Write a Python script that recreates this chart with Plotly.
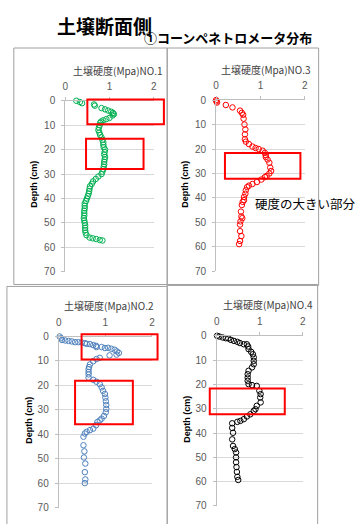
import plotly.graph_objects as go

W, H = 358, 524

# ---------------- data (depth cm, hardness MPa) ----------------
no1_depth = [0, 0.5, 1, 1.5, 2, 3, 3.5, 4, 4.5, 5, 5.5, 6, 7, 7.5, 8, 8.5, 9, 10, 11, 12, 13, 14, 15, 16,
             17, 18, 19, 20, 21, 22, 23, 24, 25, 26, 27, 28, 29, 30, 31, 32, 33, 34, 35, 36, 37, 38, 39,
             40, 41, 42, 43, 44, 45, 46, 47, 48, 49, 50, 51, 52, 53, 54, 55, 56, 56.3, 56.6, 57, 57.2]
no1_mpa = [0.25, 0.33, 0.38, 0.65, 0.67, 0.82, 0.90, 0.97, 1.04, 1.08, 1.10, 1.07, 1.00, 0.93, 0.86, 0.81,
           0.79, 0.78, 0.76, 0.75, 0.77, 0.79, 0.82, 0.84, 0.86, 0.86, 0.87, 0.90, 0.89, 0.88, 0.90, 0.89,
           0.88, 0.88, 0.87, 0.86, 0.84, 0.82, 0.75, 0.69, 0.63, 0.60, 0.56, 0.55, 0.54, 0.53, 0.51, 0.49,
           0.47, 0.44, 0.44, 0.44, 0.43, 0.43, 0.43, 0.42, 0.43, 0.44, 0.45, 0.45, 0.45, 0.46, 0.48, 0.55,
           0.62, 0.70, 0.78, 0.84]

no3_depth = [0, 0.5, 1, 2, 3, 4.3, 5.2, 6, 7.6, 10, 12, 14, 16, 17, 18, 19, 19.6, 20, 20.7, 21.6, 22.5,
             23.3, 24.3, 25.6, 27.6, 29, 30, 31, 31.5, 32.5, 33.5, 34.3, 35, 35.6, 36.9, 38.3, 39.6, 40.9,
             41.6, 42.9, 45.6, 47.6, 48.3, 49.6, 50.9, 53.6, 55.6, 57.6, 58.9]
no3_mpa = [0.00, 0.01, 0.02, 0.22, 0.37, 0.54, 0.58, 0.61, 0.62, 0.64, 0.66, 0.65, 0.65, 0.67, 0.74, 0.82,
           0.89, 0.96, 1.05, 1.10, 1.12, 1.12, 1.16, 1.20, 1.22, 1.24, 1.20, 1.14, 1.10, 1.02, 0.92, 0.82,
           0.74, 0.70, 0.67, 0.66, 0.63, 0.63, 0.60, 0.58, 0.56, 0.57, 0.59, 0.55, 0.54, 0.54, 0.57, 0.54,
           0.52]

no2_depth = [0, 0.7, 1.4, 1.6, 1.8, 2.0, 2.3, 2.3, 2.4, 2.7, 3.0, 3.1, 3.5, 3.8, 4.3, 4.3, 4.7, 4.6, 5.0,
             5.4, 6.1, 6.7, 7.4, 7.7, 8.7, 9.2, 10.1, 11.4, 12.5, 13.4, 14.5, 15.5, 16.8, 17.7, 18.5, 19.5,
             20.8, 22.2, 23.5, 25, 26.5, 28, 29.6, 31, 32.5, 33.6, 34.3, 35, 36.3, 37.7, 38.3, 39, 39.7,
             41, 44.5, 47, 49.5, 52, 55.5, 58.5, 60]
no2_mpa = [0.02, 0.05, 0.07, 0.14, 0.21, 0.28, 0.35, 0.42, 0.49, 0.56, 0.60, 0.67, 0.74, 0.80, 0.81, 0.92,
           0.99, 1.06, 1.13, 1.20, 1.25, 1.29, 1.24, 1.09, 0.88, 0.81, 0.74, 0.67, 0.65, 0.64, 0.64, 0.64,
           0.64, 0.74, 0.81, 0.88, 0.92, 0.95, 0.99, 1.00, 1.01, 1.02, 1.02, 1.01, 0.97, 0.92, 0.88, 0.83,
           0.80, 0.74, 0.67, 0.60, 0.56, 0.53, 0.53, 0.55, 0.54, 0.57, 0.56, 0.57, 0.56]

no4_depth = [0, 0.3, 0.7, 1, 1.1, 1.7, 2.1, 2.5, 3, 3.5, 3.5, 4.4, 5.5, 6.6, 7.6, 8.9, 10.3, 11.7, 13, 14.4,
             15.8, 17.2, 18.5, 19.9, 20.3, 20.6, 22.6, 24, 25.4, 27.4, 28.8, 30.2, 30.9, 32.3, 33.2, 34.3,
             35, 35.4, 36, 37.9, 39.9, 42.6, 45.3, 46.6, 48, 50, 52, 54, 56, 58, 59.3]
no4_mpa = [0.01, 0.06, 0.14, 0.21, 0.27, 0.33, 0.40, 0.48, 0.54, 0.63, 0.70, 0.73, 0.74, 0.80, 0.84, 0.86,
           0.86, 0.86, 0.82, 0.74, 0.72, 0.72, 0.72, 0.74, 0.82, 0.93, 0.99, 1.02, 1.01, 1.02, 0.93, 0.90,
           0.86, 0.78, 0.70, 0.63, 0.55, 0.48, 0.36, 0.36, 0.38, 0.36, 0.38, 0.42, 0.45, 0.45, 0.45, 0.46,
           0.47, 0.48, 0.50]

# highlighted (hard) zones: [x0, x1, depth0, depth1] in data units
no1_boxes = [[0.50, 2.23, -0.5, 9.6], [0.47, 1.77, 15.5, 27.9]]
no3_boxes = [[0.20, 1.90, 21.6, 32.2]]
no2_boxes = [[0.49, 2.12, -0.9, 9.4], [0.35, 1.59, 18.1, 35.9]]
no4_boxes = [[-0.16, 1.58, 21.7, 32.3]]

titles = ["土壌硬度(Mpa)NO.1", "土壌硬度(Mpa)NO.3", "土壌硬度(Mpa)NO.2", "土壌硬度(Mpa)NO.4"]
x_ticks = [0, 1, 2]
y_ticks = [0, 10, 20, 30, 40, 50, 60, 70]
X_RANGE = [0, 2]
Y_RANGE = [70, 0]

def px(p):
    return p / W

def py(p):
    return 1 - p / H

# panel geometry (pixels): plot area x0,x1 (value 0..2), y0,y1 (depth 0..70)
panels = [
    dict(n="", x=(63.3, 153.3), y=(97.0, 272.0), color="#00B050", depth=no1_depth, mpa=no1_mpa,
         boxes=no1_boxes, title=titles[0], tpos=(117, 66), ylab=32),
    dict(n="3", x=(216.7, 307.0), y=(96.3, 271.5), color="#FF0000", depth=no3_depth, mpa=no3_mpa,
         boxes=no3_boxes, title=titles[1], tpos=(267, 65), ylab=185),
    dict(n="2", x=(56.7, 151.5), y=(338.3, 513.3), color="#4F81BD", depth=no2_depth, mpa=no2_mpa,
         boxes=no2_boxes, title=titles[2], tpos=(108, 307), ylab=27),
    dict(n="4", x=(217.3, 305.0), y=(337.5, 511.7), color="#000000", depth=no4_depth, mpa=no4_mpa,
         boxes=no4_boxes, title=titles[3], tpos=(270, 306), ylab=187),
]

fig = go.Figure()
shapes = []
annotations = []

TICKFONT = dict(family="Liberation Sans, Arial", size=10, color="#595959")
AXCOL = "#BFBFBF"

for i, p in enumerate(panels):
    xa = "xaxis" + p["n"]
    ya = "yaxis" + p["n"]
    xr = "x" + p["n"]
    yr = "y" + p["n"]
    fig.add_trace(go.Scatter(
        x=p["mpa"], y=p["depth"], mode="markers", xaxis=xr, yaxis=yr, cliponaxis=False,
        marker=dict(symbol="circle-open", size=5.5, color=p["color"], line=dict(width=1.0, color=p["color"])),
        showlegend=False, hoverinfo="x+y"))
    fig.update_layout(**{
        xa: dict(domain=[px(p["x"][0]), px(p["x"][1])], anchor=yr, side="top", range=X_RANGE,
                 tickvals=x_ticks, showgrid=False, zeroline=False, showline=True, linecolor=AXCOL,
                 ticks="outside", ticklen=3, tickcolor=AXCOL, tickfont=TICKFONT, ticklabelstandoff=3),
        ya: dict(domain=[py(p["y"][1]), py(p["y"][0])], anchor=xr, range=Y_RANGE, tickvals=y_ticks,
                 showgrid=True, gridcolor="#D9D9D9", gridwidth=1, zeroline=False, showline=True,
                 linecolor=AXCOL, ticks="outside", ticklen=3, tickcolor=AXCOL, tickfont=TICKFONT,
                 ticklabelstandoff=4),
    })
    # highlight boxes, positioned through axis-domain fractions (unclipped)
    for b in p["boxes"]:
        fx = lambda v: (v - X_RANGE[0]) / (X_RANGE[1] - X_RANGE[0])
        fy = lambda v: (v - Y_RANGE[0]) / (Y_RANGE[1] - Y_RANGE[0])
        shapes.append(dict(type="rect", xref=xr + " domain", yref=yr + " domain",
                           x0=fx(b[0]), x1=fx(b[1]), y0=fy(b[2]), y1=fy(b[3]),
                           line=dict(color="#FF0000", width=2), fillcolor="rgba(0,0,0,0)", layer="above"))
    annotations.append(dict(text=p["title"], xref="paper", yref="paper", x=px(p["tpos"][0]),
                            y=py(p["tpos"][1]), showarrow=False, xanchor="center", yanchor="middle",
                            font=dict(family="Noto Sans CJK JP", size=10, color="#404040")))
    annotations.append(dict(text="<b>Depth (cm)</b>", xref="paper", yref="paper", x=px(p["ylab"]),
                            y=py((p["y"][0] + p["y"][1]) / 2 - 2), showarrow=False, textangle=-90,
                            xanchor="center", yanchor="middle",
                            font=dict(family="Liberation Sans, Arial", size=9, color="#000000")))

# chart-area frames
FRAME = "#A0A0A0"
for (l, t, r, b) in [(11, 43, 167, 285), (167, 43, 321, 286), (4, 287, 167, 540), (167, 285, 320, 540)]:
    shapes.append(dict(type="rect", xref="paper", yref="paper", x0=px(l), x1=px(r), y0=py(b), y1=py(t),
                       line=dict(color=FRAME, width=1), fillcolor="rgba(0,0,0,0)", layer="below"))

# headings
annotations.append(dict(text="<b>土壌断面側</b>", xref="paper", yref="paper", x=px(53), y=py(20),
                        xanchor="left", yanchor="middle", showarrow=False,
                        font=dict(family="Noto Sans CJK JP", size=19, color="#000000")))
annotations.append(dict(text="<b>①コーンペネトロメータ分布</b>", xref="paper", yref="paper", x=px(141),
                        y=py(32), xanchor="left", yanchor="middle", showarrow=False,
                        font=dict(family="Noto Sans CJK JP", size=13, color="#000000")))
# note on panel NO.3
annotations.append(dict(text="硬度の大きい部分", xref="paper", yref="paper", x=px(254), y=py(202),
                        xanchor="left", yanchor="middle", showarrow=False,
                        font=dict(family="Noto Sans CJK JP", size=12.5, color="#000000")))

fig.update_layout(width=W, height=H, margin=dict(l=0, r=0, t=0, b=0), paper_bgcolor="white",
                  plot_bgcolor="white", shapes=shapes, annotations=annotations, showlegend=False)

fig.write_html("out.html", config={"displayModeBar": False},
               post_script="document.body.style.margin='0';document.body.style.overflow='hidden';")
